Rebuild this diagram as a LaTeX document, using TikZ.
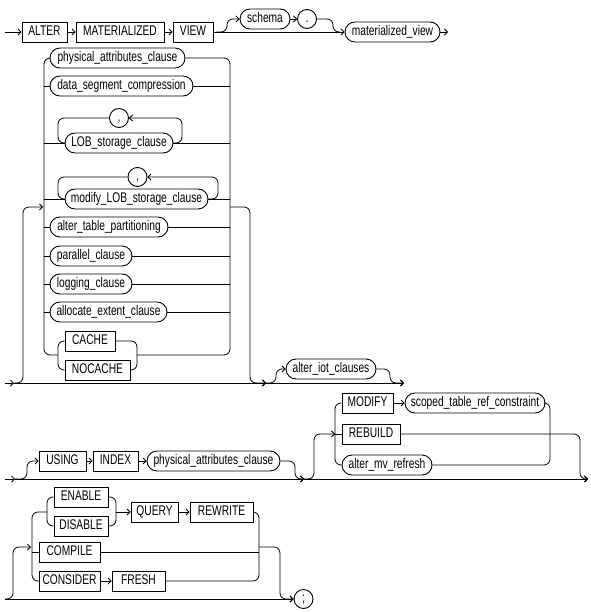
\documentclass[tikz,border=0pt]{standalone}
\usepackage{fontspec}
\usetikzlibrary{arrows.meta,shapes.misc}
\newfontfamily\rdfam[FakeStretch=0.73]{Liberation Sans}
\newcommand\rdf{\rdfam\fontsize{14}{16}\selectfont}
\begin{document}
\begin{tikzpicture}[x=1pt,y=-1pt,
  txt/.style={font=\rdf, text height=10pt, text depth=2.6pt, inner sep=0pt, line width=0.9pt, draw},
  kw/.style={txt, rectangle, minimum height=20pt},
  nt/.style={txt, rounded rectangle, minimum height=20pt},
  ci/.style={txt, circle, minimum size=19pt},
  ln/.style={line width=0.8pt, rounded corners=6pt},
  ar/.style={-{Straight Barb[length=3pt,width=6pt]}}]
\fill[white] (0,0) rectangle (590,612);
\useasboundingbox (0,0) rectangle (590,612);
% Row 1
\node[kw, minimum width=45pt] (alter) at (44.5,32) {ALTER};
\node[kw, minimum width=88pt] (mat) at (120,32) {MATERIALIZED};
\node[kw, minimum width=40pt] (view) at (193,32) {VIEW};
\node[nt, minimum width=50pt] (schema) at (265,19) {schema};
\node[ci] (dot) at (307,19) {.};
\node[nt, minimum width=95pt] (mv) at (392.5,32) {materialized\_view};
\draw[ln,ar] (5,32) -- (alter.west);
\draw[ln,ar] (alter.east) -- (mat.west);
\draw[ln,ar] (mat.east) -- (view.west);
\draw[ln,ar] (view.east) -- (mv.west);
\draw[ln,ar] (216,32) -| (227,19) -- (schema.west);
\draw[ln,ar] (schema.east) -- (dot.west);
\draw[ln] (dot.east) -| (333,32) -- (340,32);
\draw[ln,ar] (mv.east) -- (448,32);
% Row 2 group
\node[nt, minimum width=135pt] (pac1) at (117.5,58) {physical\_attributes\_clause};
\node[nt, minimum width=143pt] (dsc) at (121.5,86) {data\_segment\_compression};
\node[nt, minimum width=108pt] (lob) at (119,143) {LOB\_storage\_clause};
\node[ci] (c1) at (119,118) {,};
\node[nt, minimum width=143pt] (mlob) at (136.5,199) {modify\_LOB\_storage\_clause};
\node[ci] (c2) at (137.5,177) {,};
\node[nt, minimum width=118pt] (atp) at (109,227) {alter\_table\_partitioning};
\node[nt, minimum width=82pt] (par) at (91,256) {parallel\_clause};
\node[nt, minimum width=82pt] (logc) at (91,284) {logging\_clause};
\node[nt, minimum width=117pt] (aec) at (108.5,312) {allocate\_extent\_clause};
\node[kw, minimum width=50pt] (cache) at (90,341) {CACHE};
\node[kw, minimum width=65pt] (nocache) at (97.5,370) {NOCACHE};
\node[nt, minimum width=90pt] (iot) at (331,369) {alter\_iot\_clauses};
\draw[ln] (pac1.west) -| (44,355) -- (58,355);
\draw[ln] (pac1.east) -| (230,355) -- (137,355);
\draw[ln] (44,86) -- (dsc.west);
\draw[ln] (dsc.east) -- (230,86);
\draw[ln] (44,143) -- (lob.west);
\draw[ln] (lob.east) -- (230,143);
\draw[ln,ar] (lob.east) -| (182,118) -- (c1.east);
\draw[ln] (c1.west) -| (58,143) -- (lob.west);
\draw[ln] (44,199) -- (mlob.west);
\draw[ln] (mlob.east) -- (230,199);
\draw[ln,ar] (mlob.east) -| (218,177) -- (c2.east);
\draw[ln] (c2.west) -| (58,199) -- (mlob.west);
\draw[ln] (44,227) -- (atp.west);
\draw[ln] (atp.east) -- (230,227);
\draw[ln] (44,256) -- (par.west);
\draw[ln] (par.east) -- (230,256);
\draw[ln] (44,284) -- (logc.west);
\draw[ln] (logc.east) -- (230,284);
\draw[ln] (44,312) -- (aec.west);
\draw[ln] (aec.east) -- (230,312);
\draw[ln] (cache.west) -| (58,370) -- (nocache.west);
\draw[ln] (cache.east) -| (137,370) -- (nocache.east);
\draw[ln,ar] (5,383) -- (14,383);
\draw[ln,ar] (14,383) -| (23,207) -- (43,207);
\draw[ln,ar] (14,383) -- (266,383);
\draw[ln,ar] (230,207) -| (250,383) -- (266,383);
\draw[ln,ar] (266,383) -| (276,369) -- (iot.west);
\draw[ln,ar] (iot.east) -| (390,383) -- (404,383);
\draw[ln,ar] (266,383) -- (404,383);
% Row 3
\node[kw, minimum width=47pt] (using) at (62.5,461) {USING};
\node[kw, minimum width=45pt] (index) at (115.5,461) {INDEX};
\node[nt, minimum width=133pt] (pac2) at (213.5,461) {physical\_attributes\_clause};
\node[kw, minimum width=51pt] (modify) at (367.5,403) {MODIFY};
\node[nt, minimum width=140pt] (stc) at (475,403) {scoped\_table\_ref\_constraint};
\node[kw, minimum width=58pt] (rebuild) at (371,434) {REBUILD};
\node[nt, minimum width=90pt] (amr) at (387,465) {alter\_mv\_refresh};
\draw[ln,ar] (5,479) -- (15,479);
\draw[ln,ar] (15,479) -| (27,461) -- (using.west);
\draw[ln,ar] (using.east) -- (index.west);
\draw[ln,ar] (index.east) -- (pac2.west);
\draw[ln,ar] (pac2.east) -| (295,479) -- (304,479);
\draw[ln,ar] (15,479) -- (304,479);
\draw[ln,ar] (304,479) -| (314,434) -- (335,434);
\draw[ln] (modify.west) -| (335,465) -- (amr.west);
\draw[ln,ar] (modify.east) -- (stc.west);
\draw[ln] (stc.east) -| (550,465) -- (amr.east);
\draw[ln] (335,434) -- (rebuild.west);
\draw[ln,ar] (rebuild.east) -| (580,479) -- (588,479);
\draw[ln,ar] (304,479) -- (588,479);
% Row 4
\node[kw, minimum width=54pt] (enable) at (81,497) {ENABLE};
\node[kw, minimum width=54pt] (disable) at (81,526) {DISABLE};
\node[kw, minimum width=47pt] (query) at (154.5,512) {QUERY};
\node[kw, minimum width=63pt] (rewrite) at (221.5,512) {REWRITE};
\node[kw, minimum width=61pt] (compile) at (69.5,552) {COMPILE};
\node[kw, minimum width=61pt] (consider) at (69.5,581) {CONSIDER};
\node[kw, minimum width=53pt] (fresh) at (138.5,581) {FRESH};
\node[ci] (semi) at (303.5,599) {;};
\draw[ln,ar] (5,599) -| (13,547) -- (31,547);
\draw[ln] (47,512) -| (32,581) -- (consider.west);
\draw[ln] (32,552) -- (compile.west);
\draw[ln] (enable.west) -| (47,526) -- (disable.west);
\draw[ln] (enable.east) -| (116,526) -- (disable.east);
\draw[ln,ar] (116,512) -- (query.west);
\draw[ln,ar] (query.east) -- (rewrite.west);
\draw[ln] (rewrite.east) -| (259,581) -- (fresh.east);
\draw[ln] (compile.east) -- (259,552);
\draw[ln,ar] (consider.east) -- (fresh.west);
\draw[ln,ar] (259,547) -| (280,599) -- (semi.west);
\draw[ln,ar] (5,599) -- (semi.west);
\end{tikzpicture}
\end{document}
